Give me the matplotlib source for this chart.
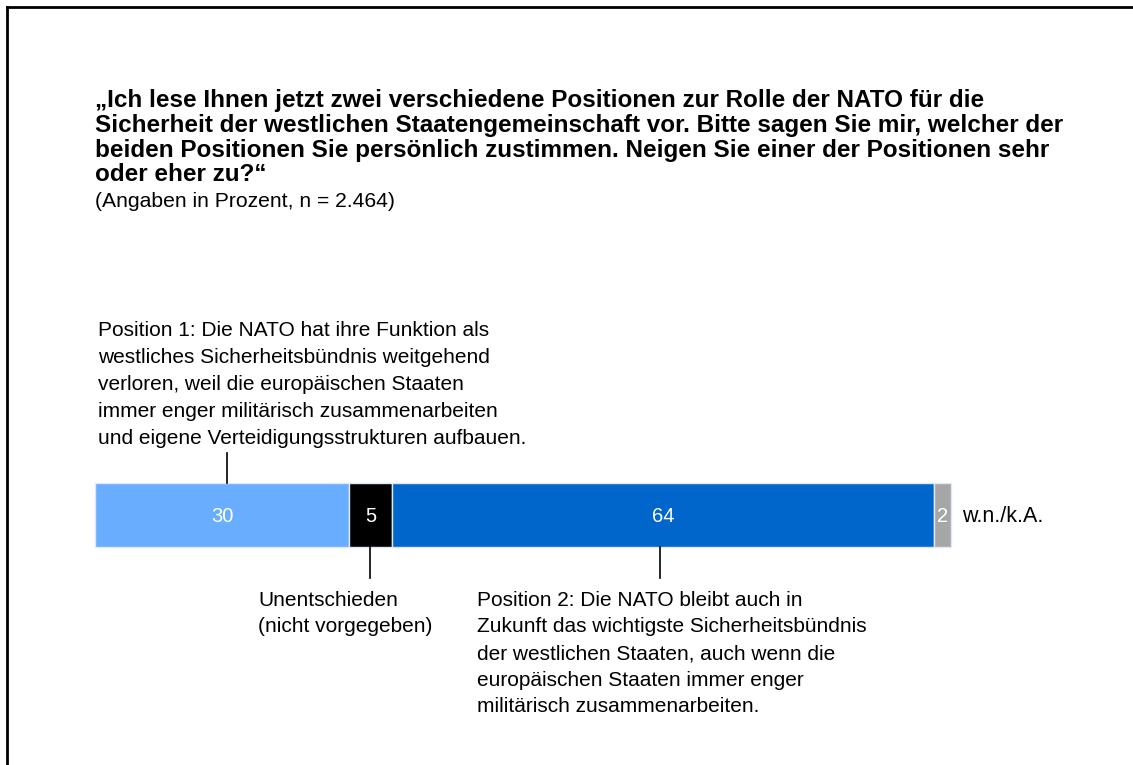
import matplotlib.pyplot as plt
from matplotlib.lines import Line2D

plt.rcParams['font.family'] = ['Liberation Sans', 'DejaVu Sans']

# data
segments = ["Position 1", "Unentschieden", "Position 2", "w.n./k.A."]
values = [30, 5, 64, 2]
colors = ["#69adff", "#000000", "#0066cc", "#a6a6a6"]

title = ("„Ich lese Ihnen jetzt zwei verschiedene Positionen zur Rolle der NATO für die\n"
         "Sicherheit der westlichen Staatengemeinschaft vor. Bitte sagen Sie mir, welcher der\n"
         "beiden Positionen Sie persönlich zustimmen. Neigen Sie einer der Positionen sehr\n"
         "oder eher zu?“")
subtitle = "(Angaben in Prozent, n = 2.464)"
pos1_text = ("Position 1: Die NATO hat ihre Funktion als\n"
             "westliches Sicherheitsbündnis weitgehend\n"
             "verloren, weil die europäischen Staaten\n"
             "immer enger militärisch zusammenarbeiten\n"
             "und eigene Verteidigungsstrukturen aufbauen.")
undec_text = "Unentschieden\n(nicht vorgegeben)"
pos2_text = ("Position 2: Die NATO bleibt auch in\n"
             "Zukunft das wichtigste Sicherheitsbündnis\n"
             "der westlichen Staaten, auch wenn die\n"
             "europäischen Staaten immer enger\n"
             "militärisch zusammenarbeiten.")

W, H = 1133, 765
fig = plt.figure(figsize=(W / 100, H / 100), dpi=100)
ax = fig.add_axes([0, 0, 1, 1])
ax.axis("off")

# x in percent units, y in pixels from top
x0_px, total_px = 95, 856
scale = total_px / sum(values)
ax.set_xlim(-x0_px / scale, (W - x0_px) / scale)
ax.set_ylim(H, 0)


def px(x):
    return (x - x0_px) / scale


bar_y, bar_h = 515, 64
left = 0
centers = []
for v, c in zip(values, colors):
    ax.barh(bar_y, v, left=left, height=bar_h, color=c, edgecolor="#dfe9f5", linewidth=1)
    centers.append(left + v / 2)
    ax.text(left + v / 2, bar_y + 1, str(v), color="white", ha="center", va="center", fontsize=14.5)
    left += v

ax.text(left + 1.3, bar_y + 1, segments[3], ha="left", va="center", fontsize=15.5)

# connectors
ax.plot([centers[0] + 0.6, centers[0] + 0.6], [453, bar_y - bar_h / 2], color="black", lw=1.2)
ax.plot([centers[1], centers[1]], [bar_y + bar_h / 2, 578], color="black", lw=1.2)
ax.plot([centers[2] - 0.3, centers[2] - 0.3], [bar_y + bar_h / 2, 578], color="black", lw=1.2)

ax.text(px(98), 321, pos1_text, ha="left", va="top", fontsize=15, linespacing=1.53)
ax.text(px(258), 591, undec_text, ha="left", va="top", fontsize=15, linespacing=1.5)
ax.text(px(477), 591, pos2_text, ha="left", va="top", fontsize=15, linespacing=1.5)

fig.text(95 / W, 1 - 89 / H, title, ha="left", va="top", fontsize=17.5, fontweight="bold", linespacing=1.1)
fig.text(95 / W, 1 - 192 / H, subtitle, ha="left", va="top", fontsize=15.2)

# frame (top and left edges visible)
fig.add_artist(Line2D([7 / W, 7 / W], [0, 1 - 7 / H], color="black", lw=2))
fig.add_artist(Line2D([7 / W, 1], [1 - 7 / H, 1 - 7 / H], color="black", lw=2))

fig.savefig("out.png", dpi=100)
